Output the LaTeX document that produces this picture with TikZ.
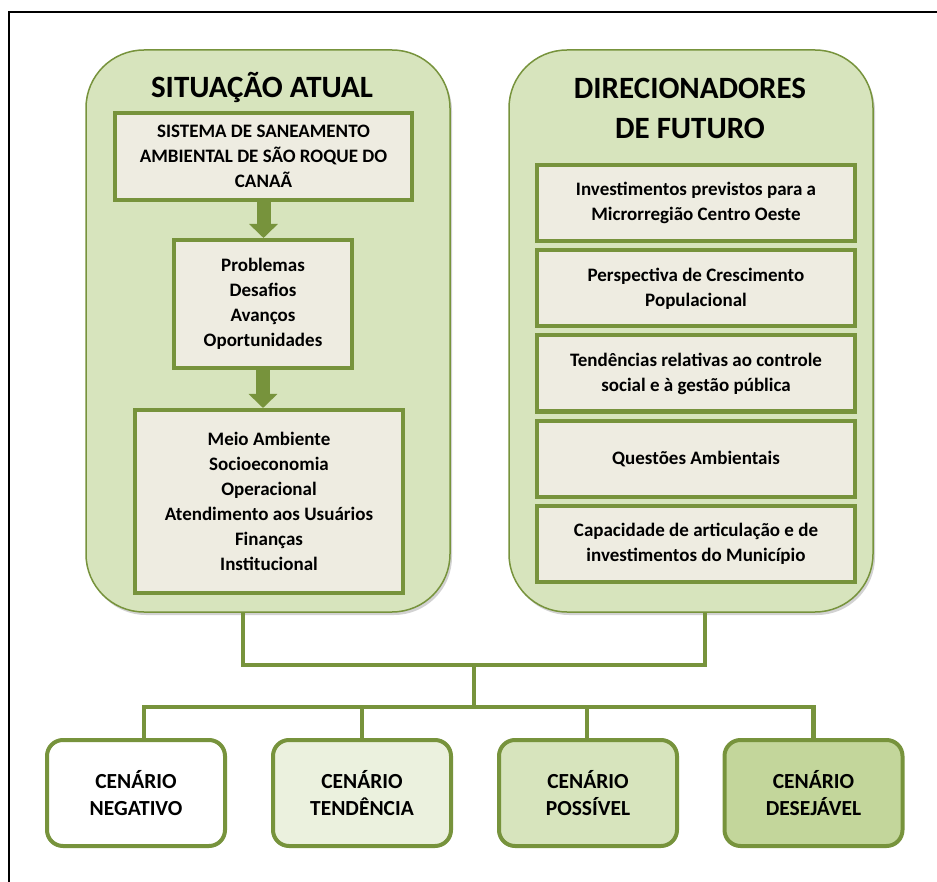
\documentclass[tikz,border=0pt]{standalone}
\usepackage{fontspec}
\setmainfont{Carlito}
\usetikzlibrary{arrows.meta,shadows,calc}
\definecolor{olive}{HTML}{77933C}
\definecolor{bigfill}{HTML}{D7E4BD}
\definecolor{innerfill}{HTML}{EEECE1}
\definecolor{fillA}{HTML}{FFFFFF}
\definecolor{fillB}{HTML}{EBF1DE}
\definecolor{fillC}{HTML}{D7E4BD}
\definecolor{fillD}{HTML}{C3D69B}
\begin{document}
\begin{tikzpicture}[x=1pt,y=-1pt,
  bigbox/.style={draw=olive, line width=1.5pt, fill=bigfill, rounded corners=58pt,
    minimum width=364pt, minimum height=562pt, inner sep=0pt,
    drop shadow={opacity=0.35, shadow xshift=2pt, shadow yshift=-3pt}},
  innerbox/.style={draw=olive, line width=4pt, fill=innerfill, align=center,
    inner sep=0pt, font=\bfseries\fontsize{19}{25}\selectfont},
  scenbox/.style={draw=olive, line width=4pt, rounded corners=16pt, align=center,
    minimum width=178pt, minimum height=106pt, inner sep=0pt,
    font=\bfseries\fontsize{21.5}{27}\selectfont},
  titletext/.style={align=center, font=\bfseries\fontsize{31}{40}\selectfont},
  conn/.style={draw=olive, line width=4.5pt},
  blockarrow/.style={draw=olive, line width=14pt, -{Triangle[width=28pt,length=14pt]}}]
\useasboundingbox (0,0) rectangle (937,882);
\fill[white] (0,0) rectangle (937,882);
\draw[black, line width=1.2pt] (9,882) -- (9,12) -- (937,12);

% big boxes
\node[bigbox] (bl) at (268,331) {};
\node[bigbox] (br) at (691,331) {};

\node[titletext] (tl) at (262,87) {SITUAÇÃO ATUAL};
\node[titletext] (tr) at (690,108) {DIRECIONADORES\\DE FUTURO};

% left inner boxes
\node[innerbox, minimum width=297pt, minimum height=87pt] (sis) at (263.5,156.5)
  {SISTEMA DE SANEAMENTO\\AMBIENTAL DE SÃO ROQUE DO\\CANAÃ};
\node[innerbox, minimum width=178pt, minimum height=128pt] (prob) at (263,304)
  {Problemas\\Desafios\\Avanços\\Oportunidades};
\node[innerbox, minimum width=268pt, minimum height=183pt] (meio) at (269,501.5)
  {Meio Ambiente\\Socioeconomia\\Operacional\\Atendimento aos Usuários\\Finanças\\Institucional};

\draw[blockarrow] (sis.south) -- (sis.south |- prob.north);
\draw[blockarrow] (prob.south) -- (prob.south |- meio.north);

% right inner boxes
\node[innerbox, minimum width=318pt, minimum height=76pt] (r1) at (696,203)
  {Investimentos previstos para a\\Microrregião Centro Oeste};
\node[innerbox, minimum width=318pt, minimum height=76pt] (r2) at (696,288.5)
  {Perspectiva de Crescimento\\Populacional};
\node[innerbox, minimum width=318pt, minimum height=76pt] (r3) at (696,373.5)
  {Tendências relativas ao controle\\social e à gestão pública};
\node[innerbox, minimum width=318pt, minimum height=76pt] (r4) at (696,459)
  {Questões Ambientais};
\node[innerbox, minimum width=318pt, minimum height=76pt] (r5) at (696,543.5)
  {Capacidade de articulação e de\\investimentos do Município};

% scenario boxes
\node[scenbox, fill=fillA] (n1) at (136,793) {CENÁRIO\\NEGATIVO};
\node[scenbox, fill=fillB] (n2) at (362,793) {CENÁRIO\\TENDÊNCIA};
\node[scenbox, fill=fillC] (n3) at (588,793) {CENÁRIO\\POSSÍVEL};
\node[scenbox, fill=fillD] (n4) at (813.5,793) {CENÁRIO\\DESEJÁVEL};

% connectors
\coordinate (jm) at (474,665);
\coordinate (jb) at (474,707);
\draw[conn] ([xshift=-25pt]bl.south) |- (jm) -| ([xshift=14pt]br.south);
\draw[conn] (jm) -- (jb);
\draw[conn] ([xshift=8pt]n1.north) |- (jb) -| (n4.north);
\draw[conn] (n2.north) -- (n2.north |- jb);
\draw[conn] ([xshift=-1pt]n3.north) -- ([xshift=-1pt]n3.north |- jb);
\end{tikzpicture}
\end{document}
